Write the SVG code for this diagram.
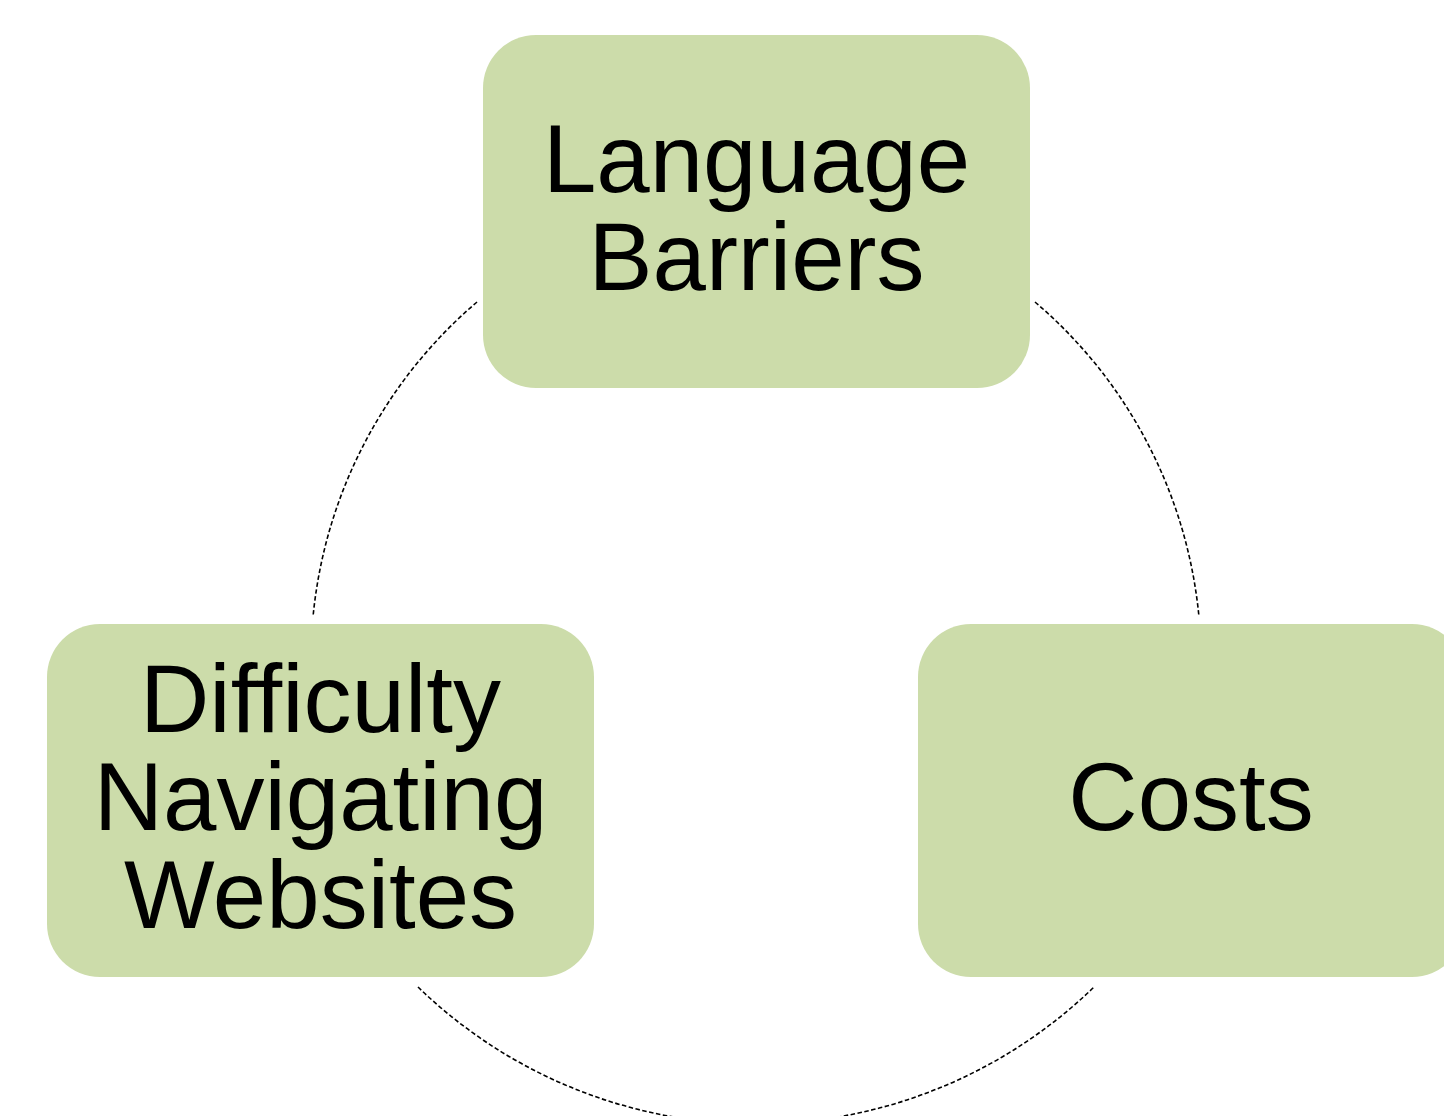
<svg xmlns="http://www.w3.org/2000/svg" width="1444" height="1116" viewBox="0 0 1444 1116">
  <style>
    .node { fill: #CCDCAA; }
    .label { font-family: "Liberation Sans", Arial, sans-serif; font-size: 96px; fill: #000000; text-anchor: middle; }
    .arc { fill: none; stroke: #000000; stroke-width: 1.6; stroke-dasharray: 4.5 2.5; }
  </style>
  <rect width="1444" height="1116" fill="#FFFFFF"/>
  <g id="connectors">
    <path class="arc" d="M 477 302 A 472.7 472.7 0 0 0 313 617"/>
    <path class="arc" d="M 1035 302 A 472.7 472.7 0 0 1 1199 617"/>
    <path class="arc" d="M 418 987 A 485.5 485.5 0 0 0 1094 987"/>
  </g>
  <g id="node-language-barriers">
    <rect class="node" x="483" y="35" width="547" height="353" rx="53" ry="53"/>
    <text class="label" x="756.5" y="192">Language</text>
    <text class="label" x="756.5" y="290">Barriers</text>
  </g>
  <g id="node-costs">
    <rect class="node" x="918" y="624" width="547" height="353" rx="53" ry="53"/>
    <text class="label" x="1191" y="830">Costs</text>
  </g>
  <g id="node-difficulty">
    <rect class="node" x="47" y="624" width="547" height="353" rx="53" ry="53"/>
    <text class="label" x="320.5" y="732">Difficulty</text>
    <text class="label" x="320.5" y="830">Navigating</text>
    <text class="label" x="320.5" y="928">Websites</text>
  </g>
</svg>
